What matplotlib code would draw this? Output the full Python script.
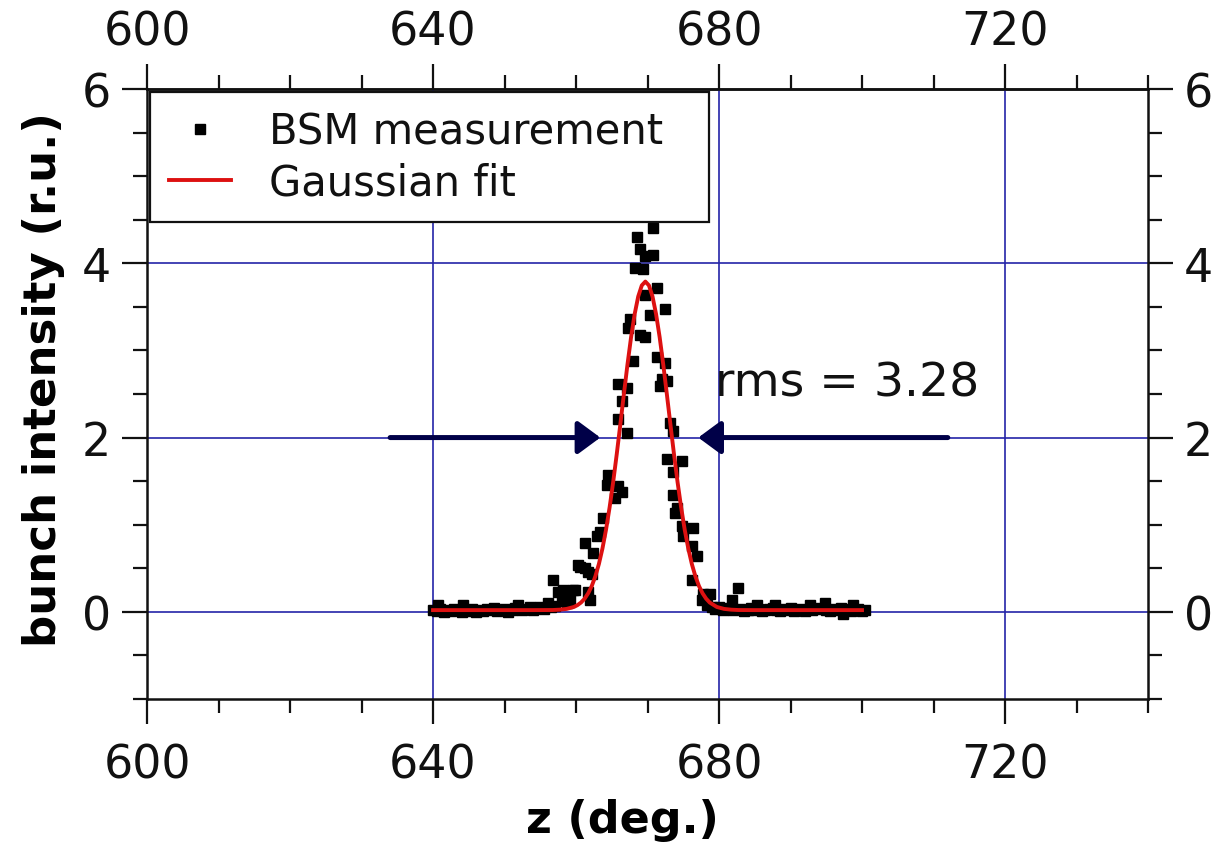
import matplotlib
matplotlib.use("Agg")
import matplotlib.pyplot as plt
from matplotlib.ticker import MultipleLocator
from matplotlib.lines import Line2D

# ---- data ----
meas_z = [
    640.0, 640.5, 640.7, 641.0, 641.5, 642.0, 642.5, 643.0, 643.5, 644.0, 644.2, 644.5, 645.0,
    645.5, 646.0, 646.5, 647.0, 647.5, 648.0, 648.5, 649.0, 649.5, 650.0, 650.5, 651.0,
    651.5, 651.9, 652.5, 653.0, 653.5, 654.0, 654.5, 655.0, 655.5, 656.1, 656.5, 656.8,
    657.0, 657.5, 658.0, 658.2, 658.7, 659.2, 659.6, 659.9, 660.3, 660.6, 661.3, 661.3,
    661.7, 661.7, 662.0, 662.2, 662.4, 662.9, 663.4, 663.8, 664.3, 664.5, 665.5, 665.9,
    665.9, 665.9, 666.4, 666.4, 667.1, 667.1, 667.3, 667.6, 668.0, 668.3, 668.5, 668.9,
    669.0, 669.3, 669.7, 669.7, 669.7, 670.4, 670.7, 670.8, 671.3, 671.3, 671.8, 672.0,
    672.5, 672.5, 672.7, 672.7, 673.2, 673.6, 673.6, 673.6, 673.9, 674.1, 674.8, 674.8,
    675.0, 676.2, 676.2, 676.4, 676.9, 677.6, 677.8, 678.3, 678.7, 679.0, 679.5, 680.0,
    680.5, 681.0, 681.5, 681.8, 682.0, 682.7, 683.0, 683.5, 684.0, 684.5, 685.0, 685.3,
    685.5, 686.0, 686.5, 687.0, 687.5, 687.8, 688.0, 688.5, 689.0, 689.5, 690.0, 690.5,
    691.0, 691.5, 692.0, 692.7, 693.0, 693.5, 694.0, 694.8, 695.0, 695.5, 696.0, 696.5,
    697.0, 697.4, 697.5, 698.0, 698.5, 698.8, 699.0, 699.5, 700.0, 700.4,
]
meas_i = [
    0.02, 0.01, 0.08, 0.03, 0.00, 0.02, 0.01, 0.03, 0.02, 0.00, 0.08, 0.02, 0.01,
    0.03, 0.00, 0.02, 0.01, 0.03, 0.02, 0.04, 0.01, 0.02, 0.03, 0.00, 0.02,
    0.04, 0.08, 0.02, 0.03, 0.05, 0.02, 0.04, 0.06, 0.03, 0.10, 0.05, 0.37,
    0.07, 0.23, 0.12, 0.25, 0.10, 0.14, 0.25, 0.25, 0.54, 0.52, 0.79, 0.50,
    0.23, 0.46, 0.14, 0.44, 0.67, 0.87, 0.92, 1.08, 1.46, 1.57, 1.31, 1.44,
    2.21, 2.61, 1.38, 2.42, 2.05, 2.57, 3.26, 3.36, 2.88, 3.95, 4.30, 3.18,
    4.16, 3.93, 3.64, 3.15, 4.08, 3.41, 4.40, 4.09, 3.72, 2.92, 2.59, 2.67,
    3.47, 2.86, 2.65, 1.75, 2.17, 2.07, 1.61, 1.34, 1.13, 1.19, 1.73, 0.98,
    0.87, 0.75, 0.37, 0.96, 0.64, 0.14, 0.21, 0.08, 0.21, 0.05, 0.03, 0.06,
    0.02, 0.04, 0.03, 0.14, 0.02, 0.27, 0.03, 0.01, 0.02, 0.04, 0.02, 0.08,
    0.03, 0.01, 0.02, 0.03, 0.04, 0.08, 0.02, 0.01, 0.03, 0.02, 0.04, 0.01,
    0.02, 0.03, 0.01, 0.08, 0.02, 0.04, 0.03, 0.10, 0.02, 0.01, 0.03, 0.02,
    0.04, -0.03, 0.02, 0.03, 0.01, 0.08, 0.02, 0.03, 0.01, 0.02,
]

fit_z = [640.0, 645.0, 650.0, 654.0, 656.7, 657.7, 658.7, 659.7, 660.2, 660.7, 661.2,
         661.7, 662.2, 662.7, 663.2, 663.7, 664.2, 664.7, 665.2, 665.7, 666.2, 666.7,
         667.2, 667.7, 668.2, 668.7, 669.2, 669.7, 670.2, 670.7, 671.2, 671.7, 672.2,
         672.7, 673.2, 673.7, 674.2, 674.7, 675.2, 675.7, 676.2, 676.7, 677.2, 677.7,
         678.2, 678.7, 679.7, 680.7, 681.7, 682.7, 685.0, 690.0, 695.0, 700.0]
fit_i = [0.02, 0.02, 0.02, 0.02, 0.021, 0.025, 0.034, 0.056, 0.077, 0.107, 0.151,
         0.213, 0.296, 0.407, 0.549, 0.728, 0.944, 1.200, 1.491, 1.812, 2.153, 2.501,
         2.840, 3.151, 3.416, 3.619, 3.746, 3.790, 3.746, 3.619, 3.416, 3.151, 2.840,
         2.501, 2.153, 1.812, 1.491, 1.200, 0.944, 0.728, 0.549, 0.407, 0.296, 0.213,
         0.151, 0.107, 0.056, 0.034, 0.025, 0.021, 0.02, 0.02, 0.02, 0.02]

rms_text = "rms = 3.28"
arrow_y = 2.0
arrow_left = (634.0, 663.4)    # start, tip
arrow_right = (712.0, 677.1)   # start, tip

x_major = [600, 640, 680, 720]
y_major = [0, 2, 4, 6]

# ---- figure ----
fig = plt.figure(figsize=(12.12, 8.45), dpi=100)
ax = fig.add_axes([0.1213, 0.1716, 0.8259, 0.7219])

ink = "#111111"
grid_c = "#2424a8"
ax.set_axisbelow(True)
ax.grid(True, which="major", color=grid_c, lw=1.2)

ax.plot(meas_z, meas_i, ls="none", marker="s", ms=6.5, color="black",
        mec="black", zorder=3)
ax.plot(fit_z, fit_i, color="#dd1111", lw=2.8, zorder=4)

arrow_c = "#000048"
astyle = "-|>,head_length=0.38,head_width=0.28"
ax.annotate("", xy=(arrow_left[1], arrow_y), xytext=(arrow_left[0], arrow_y),
            arrowprops=dict(arrowstyle=astyle, color=arrow_c, lw=3.6,
                            mutation_scale=36, shrinkA=0, shrinkB=0), zorder=5)
ax.annotate("", xy=(arrow_right[1], arrow_y), xytext=(arrow_right[0], arrow_y),
            arrowprops=dict(arrowstyle=astyle, color=arrow_c, lw=3.6,
                            mutation_scale=36, shrinkA=0, shrinkB=0), zorder=5)
ax.text(679.4, 2.48, rms_text, fontsize=34, color=ink, va="baseline",
        ha="left", zorder=6)

ax.set_xlim(600, 740)
ax.set_ylim(-1, 6)
ax.set_xticks(x_major)
ax.set_yticks(y_major)
ax.xaxis.set_minor_locator(MultipleLocator(10))
ax.yaxis.set_minor_locator(MultipleLocator(0.5))

ax.tick_params(which="both", direction="out", top=False, right=True,
               labeltop=False, labelright=True, width=1.6, color=ink,
               labelsize=33, labelcolor=ink)
ax.tick_params(which="major", length=18)
ax.tick_params(which="minor", length=10)
ax.tick_params(axis="x", which="major", pad=13)
ax.tick_params(axis="y", which="major", pad=8)
for s in ax.spines.values():
    s.set_linewidth(1.8)
    s.set_color(ink)

# top axis with its own label spacing
top = ax.secondary_xaxis("top")
top.set_xticks(x_major)
top.xaxis.set_minor_locator(MultipleLocator(10))
top.tick_params(which="both", direction="out", width=1.6, color=ink,
                labelsize=33, labelcolor=ink)
top.tick_params(which="major", length=18, pad=7)
top.tick_params(which="minor", length=10)
top.spines["top"].set_linewidth(1.8)
top.spines["top"].set_color(ink)

ax.set_xlabel("z (deg.)", fontsize=32, fontweight="bold")
ax.xaxis.set_label_coords(0.4745, -0.162)
ax.set_ylabel("bunch intensity (r.u.)", fontsize=32.5, fontweight="bold")
ax.yaxis.set_label_coords(-0.082, 0.525)

handles = [Line2D([], [], ls="none", marker="s", ms=6.5, color="black"),
           Line2D([], [], color="#dd1111", lw=2.8)]
leg = ax.legend(handles, ["BSM measurement", "Gaussian fit"],
                loc="upper left", bbox_to_anchor=(0.003, 0.995, 0.558, 0.0),
                mode="expand", borderaxespad=0, fontsize=30, frameon=True,
                fancybox=False, framealpha=1, edgecolor=ink,
                handlelength=1.5, handletextpad=0.9, labelspacing=0.2,
                borderpad=0.45)
leg.get_frame().set_linewidth(1.6)
for t in leg.get_texts():
    t.set_color(ink)

fig.savefig("out.png", dpi=100)
